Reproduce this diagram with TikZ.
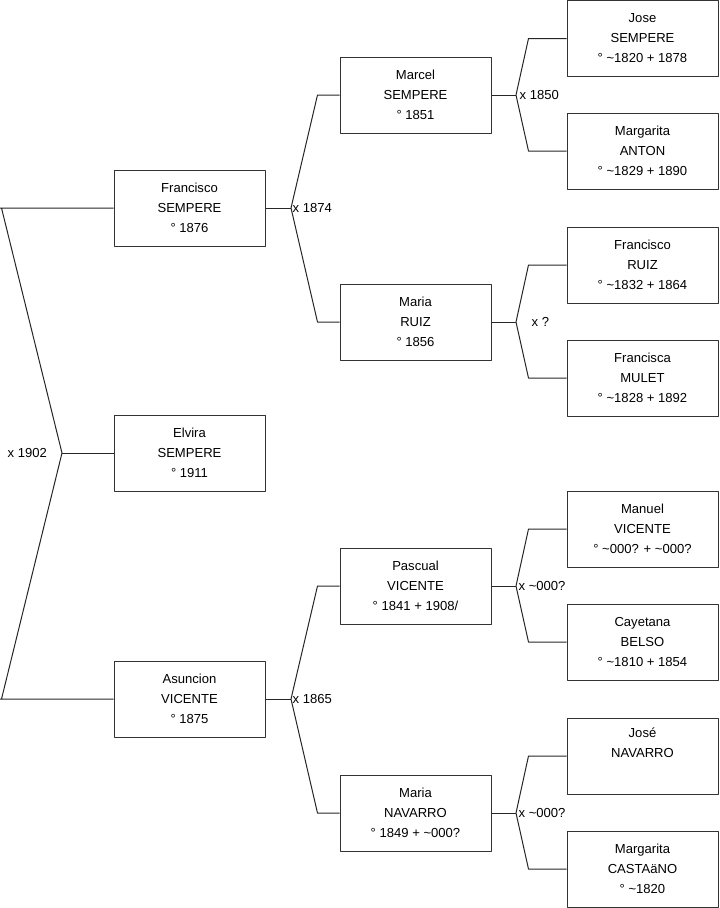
\documentclass[tikz,border=0pt]{standalone}
\usepackage{fontspec}
\setmainfont{Liberation Sans}
\usetikzlibrary{calc}
\newcommand{\tld}{\textasciitilde}

\begin{document}
\begin{tikzpicture}[x=0.75pt,y=-0.75pt,line join=round,
  person/.style={draw=black!80,line width=0.75pt,minimum width=113.25pt,minimum height=57pt,
    inner sep=0pt,align=center,font=\fontsize{9.8}{15}\selectfont},
  link/.style={draw=black!85,line width=0.75pt},
  wed/.style={inner sep=1pt,font=\fontsize{9.8}{12}\selectfont}]
  \useasboundingbox (0,0) rectangle (719,908);
  % generation 1
  \node[person] (fra) at (189.5,208) {Francisco\\SEMPERE\\° 1876};
  \node[person] (elv) at (189.5,453) {Elvira\\SEMPERE\\° 1911};
  \node[person] (asu) at (189.5,699) {Asuncion\\VICENTE\\° 1875};
  % generation 2
  \node[person] (mar) at (415.5,95) {Marcel\\SEMPERE\\° 1851};
  \node[person] (mru) at (415.5,322) {Maria\\RUIZ\\° 1856};
  \node[person] (pas) at (415.5,586) {Pascual\\VICENTE\\° 1841 + 1908/};
  \node[person] (mna) at (415.5,813) {Maria\\NAVARRO\\° 1849 + \tld000?};
  % generation 3
  \node[person] (jos) at (642.5,38.5) {Jose\\SEMPERE\\° \tld1820 + 1878};
  \node[person] (mga) at (642.5,151) {Margarita\\ANTON\\° \tld1829 + 1890};
  \node[person] (frr) at (642.5,265) {Francisco\\RUIZ\\° \tld1832 + 1864};
  \node[person] (frm) at (642.5,378) {Francisca\\MULET\\° \tld1828 + 1892};
  \node[person] (man) at (642.5,529) {Manuel\\VICENTE\\° \tld000? + \tld000?};
  \node[person] (cay) at (642.5,642) {Cayetana\\BELSO\\° \tld1810 + 1854};
  \node[person] (jna) at (642.5,756) {José\\NAVARRO\\\strut};
  \node[person] (mgc) at (642.5,869) {Margarita\\CASTAäNO\\° \tld1820};
  % marriages
  \coordinate (v1902) at (62,453);
  \coordinate (v1874) at (291,208);
  \coordinate (v1865) at (291,699);
  \coordinate (v1850) at (516,95);
  \coordinate (vruiz) at (516,322);
  \coordinate (vpas) at (516,586);
  \coordinate (vmna) at (516,813);
  \draw[link] (fra.west) -- ++(-114,0) -- ++(2,0) -- (v1902);
  \draw[link] (asu.west) -- ++(-114,0) -- ++(2,0) -- (v1902);
  \draw[link] (elv.west) -- (v1902);
  \draw[link] (fra.east) -- (v1874);
  \draw[link] (mar.west) -- ++(-22,0) -- (v1874);
  \draw[link] (mru.west) -- ++(-22,0) -- (v1874);
  \draw[link] (asu.east) -- (v1865);
  \draw[link] (pas.west) -- ++(-22,0) -- (v1865);
  \draw[link] (mna.west) -- ++(-22,0) -- (v1865);
  \draw[link] (mar.east) -- (v1850);
  \draw[link] (jos.west) -- ++(-38,0) -- (v1850);
  \draw[link] (mga.west) -- ++(-38,0) -- (v1850);
  \draw[link] (mru.east) -- (vruiz);
  \draw[link] (frr.west) -- ++(-38,0) -- (vruiz);
  \draw[link] (frm.west) -- ++(-38,0) -- (vruiz);
  \draw[link] (pas.east) -- (vpas);
  \draw[link] (man.west) -- ++(-38,0) -- (vpas);
  \draw[link] (cay.west) -- ++(-38,0) -- (vpas);
  \draw[link] (mna.east) -- (vmna);
  \draw[link] (jna.west) -- ++(-38,0) -- (vmna);
  \draw[link] (mgc.west) -- ++(-38,0) -- (vmna);
  \node[wed,anchor=west] (l1902) at (6,453) {x 1902};
  \node[wed,anchor=west] (l1874) at (v1874) {x 1874};
  \node[wed,anchor=west] (l1865) at (v1865) {x 1865};
  \node[wed,anchor=west] (l1850) at ($(v1850)+(2,0)$) {x 1850};
  \node[wed,anchor=west] (lruiz) at ($(vruiz)+(14,0)$) {x ?};
  \node[wed,anchor=west] (lpas) at ($(vpas)+(1,0)$) {x \tld000?};
  \node[wed,anchor=west] (lmna) at ($(vmna)+(1,0)$) {x \tld000?};
\end{tikzpicture}
\end{document}
